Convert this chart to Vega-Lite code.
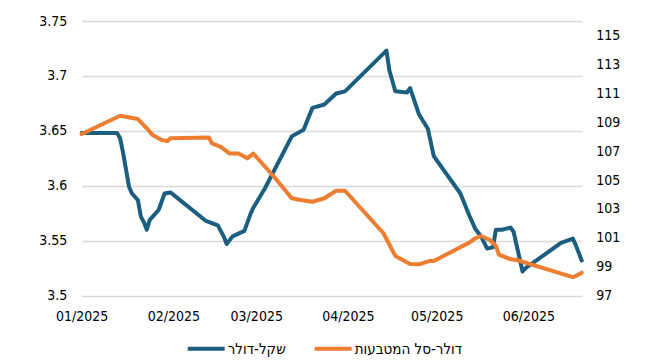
{
  "$schema": "https://vega.github.io/schema/vega-lite/v6.json",
  "width": 500,
  "height": 274.7,
  "autosize": {"type": "none"},
  "padding": {"left": 81.7, "top": 21, "right": 75.3, "bottom": 68.3},
  "background": "white",
  "config": {
    "view": {"stroke": null},
    "font": "DejaVu Sans Condensed",
    "axis": {"labelFont": "DejaVu Sans Condensed", "labelFontSize": 14, "labelColor": "#000000", "domain": false, "ticks": false, "title": null}
  },
  "data": {
    "values": [
      {"date": "2025-01-01", "series": "שקל-דולר", "value": 3.648},
      {"date": "2025-01-13", "series": "שקל-דולר", "value": 3.648},
      {"date": "2025-01-14", "series": "שקל-דולר", "value": 3.643},
      {"date": "2025-01-15", "series": "שקל-דולר", "value": 3.630},
      {"date": "2025-01-17", "series": "שקל-דולר", "value": 3.599},
      {"date": "2025-01-18", "series": "שקל-דולר", "value": 3.593},
      {"date": "2025-01-20", "series": "שקל-דולר", "value": 3.587},
      {"date": "2025-01-21", "series": "שקל-דולר", "value": 3.572},
      {"date": "2025-01-22", "series": "שקל-דולר", "value": 3.567},
      {"date": "2025-01-23", "series": "שקל-דולר", "value": 3.560},
      {"date": "2025-01-24", "series": "שקל-דולר", "value": 3.569},
      {"date": "2025-01-27", "series": "שקל-דולר", "value": 3.578},
      {"date": "2025-01-29", "series": "שקל-דולר", "value": 3.593},
      {"date": "2025-01-31", "series": "שקל-דולר", "value": 3.594},
      {"date": "2025-02-12", "series": "שקל-דולר", "value": 3.568},
      {"date": "2025-02-16", "series": "שקל-דולר", "value": 3.564},
      {"date": "2025-02-18", "series": "שקל-דולר", "value": 3.554},
      {"date": "2025-02-19", "series": "שקל-דולר", "value": 3.547},
      {"date": "2025-02-21", "series": "שקל-דולר", "value": 3.554},
      {"date": "2025-02-25", "series": "שקל-דולר", "value": 3.559},
      {"date": "2025-02-27", "series": "שקל-דולר", "value": 3.574},
      {"date": "2025-02-28", "series": "שקל-דולר", "value": 3.580},
      {"date": "2025-03-04", "series": "שקל-דולר", "value": 3.598},
      {"date": "2025-03-13", "series": "שקל-דולר", "value": 3.645},
      {"date": "2025-03-17", "series": "שקל-דולר", "value": 3.651},
      {"date": "2025-03-20", "series": "שקל-דולר", "value": 3.671},
      {"date": "2025-03-24", "series": "שקל-דולר", "value": 3.674},
      {"date": "2025-03-28", "series": "שקל-דולר", "value": 3.684},
      {"date": "2025-03-31", "series": "שקל-דולר", "value": 3.686},
      {"date": "2025-04-14", "series": "שקל-דולר", "value": 3.723},
      {"date": "2025-04-15", "series": "שקל-דולר", "value": 3.705},
      {"date": "2025-04-17", "series": "שקל-דולר", "value": 3.686},
      {"date": "2025-04-21", "series": "שקל-דולר", "value": 3.685},
      {"date": "2025-04-22", "series": "שקל-דולר", "value": 3.689},
      {"date": "2025-04-23", "series": "שקל-דולר", "value": 3.681},
      {"date": "2025-04-25", "series": "שקל-דולר", "value": 3.665},
      {"date": "2025-04-28", "series": "שקל-דולר", "value": 3.652},
      {"date": "2025-04-30", "series": "שקל-דולר", "value": 3.627},
      {"date": "2025-05-09", "series": "שקל-דולר", "value": 3.593},
      {"date": "2025-05-12", "series": "שקל-דולר", "value": 3.573},
      {"date": "2025-05-14", "series": "שקל-דולר", "value": 3.561},
      {"date": "2025-05-16", "series": "שקל-דולר", "value": 3.554},
      {"date": "2025-05-18", "series": "שקל-דולר", "value": 3.543},
      {"date": "2025-05-20", "series": "שקל-דולר", "value": 3.544},
      {"date": "2025-05-21", "series": "שקל-דולר", "value": 3.560},
      {"date": "2025-05-23", "series": "שקל-דולר", "value": 3.560},
      {"date": "2025-05-26", "series": "שקל-דולר", "value": 3.562},
      {"date": "2025-05-27", "series": "שקל-דולר", "value": 3.558},
      {"date": "2025-05-30", "series": "שקל-דולר", "value": 3.522},
      {"date": "2025-05-31", "series": "שקל-דולר", "value": 3.525},
      {"date": "2025-06-12", "series": "שקל-דולר", "value": 3.548},
      {"date": "2025-06-16", "series": "שקל-דולר", "value": 3.552},
      {"date": "2025-06-17", "series": "שקל-דולר", "value": 3.546},
      {"date": "2025-06-19", "series": "שקל-דולר", "value": 3.532},
      {"date": "2025-01-01", "series": "דולר-סל המטבעות", "value": 108.18},
      {"date": "2025-01-14", "series": "דולר-סל המטבעות", "value": 109.45},
      {"date": "2025-01-20", "series": "דולר-סל המטבעות", "value": 109.22},
      {"date": "2025-01-23", "series": "דולר-סל המטבעות", "value": 108.58},
      {"date": "2025-01-25", "series": "דולר-סל המטבעות", "value": 108.11},
      {"date": "2025-01-28", "series": "דולר-סל המטבעות", "value": 107.77},
      {"date": "2025-01-30", "series": "דולר-סל המטבעות", "value": 107.70},
      {"date": "2025-01-31", "series": "דולר-סל המטבעות", "value": 107.89},
      {"date": "2025-02-13", "series": "דולר-סל המטבעות", "value": 107.95},
      {"date": "2025-02-14", "series": "דולר-סל המטבעות", "value": 107.54},
      {"date": "2025-02-17", "series": "דולר-סל המטבעות", "value": 107.30},
      {"date": "2025-02-20", "series": "דולר-סל המטבעות", "value": 106.83},
      {"date": "2025-02-23", "series": "דולר-סל המטבעות", "value": 106.83},
      {"date": "2025-02-26", "series": "דולר-סל המטבעות", "value": 106.50},
      {"date": "2025-02-28", "series": "דולר-סל המטבעות", "value": 106.83},
      {"date": "2025-03-07", "series": "דולר-סל המטבעות", "value": 105.23},
      {"date": "2025-03-13", "series": "דולר-סל המטבעות", "value": 103.74},
      {"date": "2025-03-16", "series": "דולר-סל המטבעות", "value": 103.62},
      {"date": "2025-03-20", "series": "דולר-סל המטבעות", "value": 103.50},
      {"date": "2025-03-24", "series": "דולר-סל המטבעות", "value": 103.74},
      {"date": "2025-03-28", "series": "דולר-סל המטבעות", "value": 104.26},
      {"date": "2025-03-31", "series": "דולר-סל המטבעות", "value": 104.26},
      {"date": "2025-04-13", "series": "דולר-סל המטבעות", "value": 101.32},
      {"date": "2025-04-17", "series": "דולר-סל המטבעות", "value": 99.75},
      {"date": "2025-04-22", "series": "דולר-סל המטבעות", "value": 99.19},
      {"date": "2025-04-25", "series": "דולר-סל המטבעות", "value": 99.17},
      {"date": "2025-04-29", "series": "דולר-סל המטבעות", "value": 99.42},
      {"date": "2025-04-30", "series": "דולר-סל המטבעות", "value": 99.40},
      {"date": "2025-05-12", "series": "דולר-סל המטבעות", "value": 100.67},
      {"date": "2025-05-14", "series": "דולר-סל המטבעות", "value": 100.97},
      {"date": "2025-05-16", "series": "דולר-סל המטבעות", "value": 101.13},
      {"date": "2025-05-19", "series": "דולר-סל המטבעות", "value": 100.85},
      {"date": "2025-05-21", "series": "דולר-סל המטבעות", "value": 100.45},
      {"date": "2025-05-22", "series": "דולר-סל המטבעות", "value": 99.84},
      {"date": "2025-05-26", "series": "דולר-סל המטבעות", "value": 99.52},
      {"date": "2025-05-28", "series": "דולר-סל המטבעות", "value": 99.47},
      {"date": "2025-06-16", "series": "דולר-סל המטבעות", "value": 98.29},
      {"date": "2025-06-17", "series": "דולר-סל המטבעות", "value": 98.36},
      {"date": "2025-06-19", "series": "דולר-סל המטבעות", "value": 98.59}
    ]
  },
  "encoding": {
    "x": {
      "field": "date",
      "type": "temporal",
      "scale": {
        "type": "utc",
        "domain": [
          {"year": 2025, "month": 1, "date": 1, "utc": true},
          {"year": 2025, "month": 6, "date": 19, "utc": true}
        ]
      },
      "axis": {
        "format": "%m/%Y",
        "grid": false,
        "labelPadding": 14,
        "labelFlush": false,
        "labelOverlap": false,
        "values": [
          {"year": 2025, "month": 1, "date": 1, "utc": true},
          {"year": 2025, "month": 2, "date": 1, "utc": true},
          {"year": 2025, "month": 3, "date": 1, "utc": true},
          {"year": 2025, "month": 4, "date": 1, "utc": true},
          {"year": 2025, "month": 5, "date": 1, "utc": true},
          {"year": 2025, "month": 6, "date": 1, "utc": true}
        ]
      }
    },
    "color": {
      "field": "series",
      "type": "nominal",
      "scale": {"domain": ["שקל-דולר", "דולר-סל המטבעות"], "range": ["#1B5E80", "#ED7D31"]},
      "legend": {
        "title": null,
        "orient": "none",
        "legendX": 104,
        "legendY": 307,
        "direction": "horizontal",
        "symbolType": "stroke",
        "symbolSize": 1369,
        "symbolStrokeWidth": 4,
        "labelFont": "DejaVu Sans Condensed",
        "labelFontSize": 15,
        "labelColor": "#000000",
        "labelOffset": 1,
        "columnPadding": 20
      }
    }
  },
  "layer": [
    {
      "transform": [{"filter": "datum.series === 'שקל-דולר'"}],
      "mark": {"type": "line", "strokeWidth": 4, "strokeJoin": "round", "strokeCap": "round"},
      "encoding": {
        "y": {
          "field": "value",
          "type": "quantitative",
          "scale": {"domain": [3.5, 3.75], "nice": false, "zero": false},
          "axis": {
            "orient": "left",
            "values": [3.5, 3.55, 3.6, 3.65, 3.7, 3.75],
            "format": ".3~f",
            "grid": true,
            "gridColor": "#d9d9d9",
            "gridWidth": 1.3,
            "labelPadding": 15
          }
        }
      }
    },
    {
      "transform": [{"filter": "datum.series === 'דולר-סל המטבעות'"}],
      "mark": {"type": "line", "strokeWidth": 4, "strokeJoin": "round", "strokeCap": "round"},
      "encoding": {
        "y": {
          "field": "value",
          "type": "quantitative",
          "scale": {"domain": [97, 116], "nice": false, "zero": false},
          "axis": {
            "orient": "right",
            "values": [97, 99, 101, 103, 105, 107, 109, 111, 113, 115],
            "format": "d",
            "grid": false,
            "labelPadding": 14
          }
        }
      }
    }
  ],
  "resolve": {"scale": {"y": "independent"}}
}
